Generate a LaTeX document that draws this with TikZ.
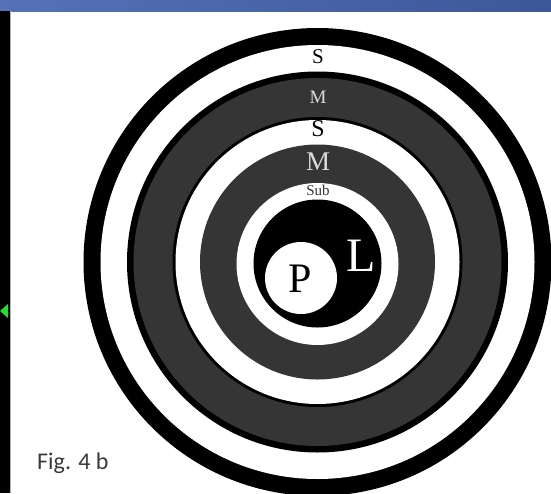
\documentclass[tikz,border=0pt]{standalone}
\usepackage{fontspec}
\setmainfont{Liberation Serif}
\newfontfamily\figfont{Carlito}
\definecolor{ringgrey}{HTML}{353535}
\definecolor{lightlet}{HTML}{DADADA}
\definecolor{barL}{HTML}{5572B9}
\definecolor{barR}{HTML}{3D5898}
\definecolor{figgrey}{HTML}{3A3A3A}
\definecolor{arrowgreen}{HTML}{22DD33}
\tikzset{
  letter/.style={inner sep=0pt, font=\fontsize{#1}{#1}\selectfont},
}
\begin{document}
\begin{tikzpicture}[x=1pt,y=-1pt]
\useasboundingbox (0,0) rectangle (551,493);
\clip (0,0) rectangle (551,493);
\fill[white] (0,0) rectangle (551,493);
% rings
\coordinate (c) at (317.5,262);
\fill[black] (c) circle[radius=234];
\fill[white] (c) circle[radius=217];
\fill[black] (c) circle[radius=190.5];
\fill[ringgrey] (c) circle[radius=184];
\fill[black] (c) circle[radius=145];
\fill[white] (c) circle[radius=142];
\fill[ringgrey] (c) circle[radius=117.5];
\fill[white] (317.5,264) circle[radius=81];
\fill[black] (317.5,263.5) circle[radius=64];
\fill[white] (301,278) circle[radius=36];
% labels
\node[letter=21] (s1) at (318,57) {S};
\node[letter=19,text=lightlet] (m1) at (318,97) {M};
\node[letter=24] (s2) at (318,129) {S};
\node[letter=27,text=lightlet] (m2) at (318,162) {M};
\node[letter=15,text=ringgrey] (sub) at (318,190) {Sub};
\node[letter=42] (p) at (300,279) {P};
\node[letter=48,text=white] (l) at (361,256) {L};
% frame
\shade[left color=barL,right color=barR] (0,0) rectangle (551,11);
\fill[black] (0,11) rectangle (10,493);
\fill[gray!60] (10,11) rectangle (11,493);
\fill[arrowgreen] (0,311) -- (8,304) -- (8,318) -- cycle;
\node[inner sep=0pt,anchor=base west,text=figgrey,font=\figfont\fontsize{24}{24}\selectfont] (fig) at (37,469) {Fig. 4 b};
\end{tikzpicture}
\end{document}
